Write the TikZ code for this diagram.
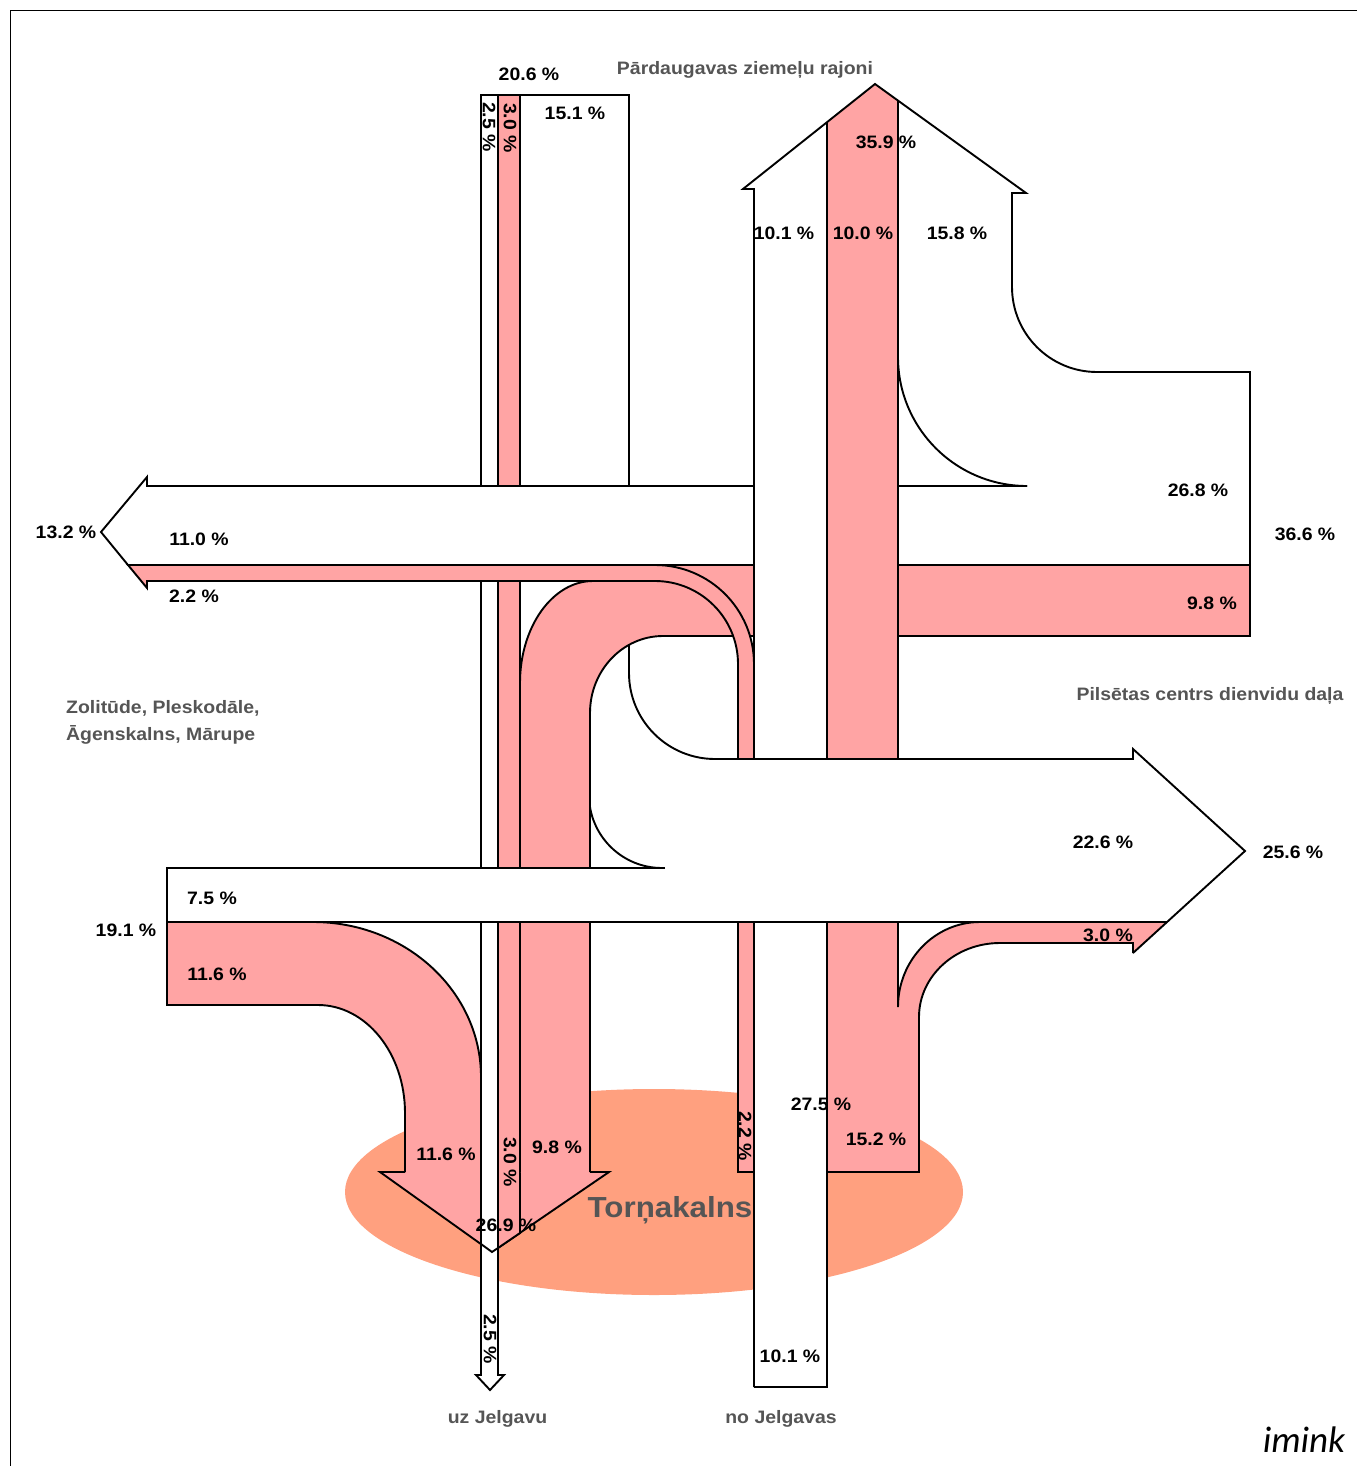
\documentclass[tikz,border=0pt]{standalone}
\usepackage{fontspec}
\setmainfont{Liberation Sans}[FakeStretch=1.08]
\newfontfamily\iminkfont{Carlito}
\definecolor{pinkf}{HTML}{FFA4A4}
\definecolor{salmonf}{HTML}{FFA07F}
\definecolor{graytxt}{HTML}{555555}
\tikzset{
  edge/.style={draw=black, line width=1.9pt, line join=miter, line cap=butt},
  pct/.style={font=\bfseries\fontsize{18}{20}\selectfont, inner sep=0pt, anchor=base},
  pctr/.style={font=\bfseries\fontsize{18}{20}\selectfont, inner sep=0pt, rotate=-90},
  place/.style={font=\bfseries\fontsize{18}{20}\selectfont, text=graytxt, inner sep=0pt, anchor=base},
}
\begin{document}
\begin{tikzpicture}[x=1pt,y=1pt,yscale=-1]
\useasboundingbox (0,0) rectangle (1357,1466);
% frame
\draw[line width=0.8pt] (10,1466) -- (10,10) -- (1357,10);
% ellipse
\fill[salmonf] (654,1192) ellipse [x radius=309pt, y radius=103pt];
% SW pink curve (11.6%) and south arrowhead
\fill[pinkf] (167,922) -- (313,922) arc[start angle=270,end angle=360,x radius=168pt,y radius=155pt] -- (481,1172) -- (405,1172) -- (405,1113) arc[start angle=0,end angle=-90,x radius=87pt,y radius=108pt] -- (167,1005) -- cycle;
\fill[pinkf] (380,1172) -- (609,1172) -- (492,1252) -- cycle;
\draw[edge] (167,922) -- (313,922) arc[start angle=270,end angle=360,x radius=168pt,y radius=155pt] -- (481,1172);
\draw[edge] (405,1172) -- (405,1113) arc[start angle=0,end angle=-90,x radius=87pt,y radius=108pt] -- (167,1005) -- (167,922);
\draw[edge] (405,1172) -- (380,1172) -- (492,1252) -- (609,1172) -- (590,1172);
% north pink 3.0%
\path[fill=pinkf, edge] (498,95) -- (520,95) -- (520,1233) -- (498,1248) -- cycle;
% 2.5% white band to Jelgava
\path[fill=white, edge] (481,95) -- (498,95) -- (498,1375) -- (504,1375) -- (490,1390) -- (476,1375) -- (481,1375) -- cycle;
\draw[edge] (481,1244) -- (492,1252) -- (498,1248);
% north white 15.1%
\fill[white] (520,95) -- (629,95) -- (629,673) arc[start angle=180,end angle=90,radius=86pt] -- (715,868) -- (662,868) arc[start angle=90,end angle=180,radius=73pt] -- (520,795) -- cycle;
\draw[edge] (520,795) -- (520,95) -- (629,95) -- (629,673) arc[start angle=180,end angle=90,radius=86pt] -- (730,759);
\draw[edge] (662,868) arc[start angle=90,end angle=180,radius=73pt];
% east pink 9.8% turning south
\fill[pinkf] (1250,565) -- (1250,636) -- (663,636) arc[start angle=270,end angle=180,x radius=73pt,y radius=77pt] -- (590,1172) -- (520,1172) -- (520,683) arc[start angle=180,end angle=270,x radius=73pt,y radius=102pt] -- (655,581) -- (655,565) -- cycle;
\draw[edge] (655,565) -- (1250,565) -- (1250,636) -- (663,636) arc[start angle=270,end angle=180,x radius=73pt,y radius=77pt] -- (590,1172);
\draw[edge] (520,1172) -- (520,683) arc[start angle=180,end angle=270,x radius=73pt,y radius=102pt];
% pink 2.2% south to west
\path[fill=pinkf, edge] (754,1172) -- (754,664) arc[start angle=0,end angle=-90,radius=99pt] -- (128,565) -- (147,588) -- (147,581) -- (655,581) arc[start angle=-90,end angle=0,radius=83pt] -- (738,1172) -- cycle;
% white east band 26.8% -> north 15.8% and west arrow 11.0%
\fill[white] (1012,193) -- (1012,287) arc[start angle=180,end angle=90,radius=85pt] -- (1250,372) -- (1250,565) -- (128,565) -- (101,532) -- (147,477) -- (147,486) -- (898,486) -- (898,193) -- cycle;
\draw[edge] (1012,193) -- (1012,287) arc[start angle=180,end angle=90,radius=85pt] -- (1250,372) -- (1250,565) -- (128,565) -- (101,532) -- (147,477) -- (147,486) -- (1027,486);
\draw[edge] (898,357) arc[start angle=180,end angle=90,radius=129pt];
% north arrow head and white 10.1% band
\fill[white] (754,205) -- (754,189) -- (743,189) -- (875,84) -- (1026,193) -- (1012,193) -- (1012,205) -- cycle;
\fill[white] (754,189) rectangle (827,1387);
\fill[pinkf] (827,1172) -- (827,122) -- (875,84) -- (898,101) -- (898,1007) arc[start angle=180,end angle=270,x radius=82pt,y radius=85pt] -- (1167,922) -- (1133,953) -- (1133,943) -- (1000,943) arc[start angle=270,end angle=180,x radius=81pt,y radius=74pt] -- (919,1172) -- cycle;
\draw[edge] (754,1387) -- (754,189) -- (743,189) -- (875,84) -- (1026,193) -- (1012,193) -- (1012,260);
\draw[edge] (754,1387) -- (827,1387) -- (827,122);
\draw[edge] (898,101) -- (898,1007) arc[start angle=180,end angle=270,x radius=82pt,y radius=85pt] -- (1167,922);
\draw[edge] (1133,953) -- (1133,943) -- (1000,943) arc[start angle=270,end angle=180,x radius=81pt,y radius=74pt] -- (919,1172) -- (827,1172);
% east arrow (white) with Zolitude band
\fill[white] (167,868) -- (715,868) -- (715,759) -- (1133,759) -- (1133,749) -- (1245,851) -- (1167,922) -- (167,922) -- cycle;
\draw[edge] (665,868) -- (167,868) -- (167,922) -- (1167,922);
\draw[edge] (715,759) -- (1133,759) -- (1133,749) -- (1245,851) -- (1133,953);
% labels
\node[place] (lpard) at (745,74.5) {Pārdaugavas ziemeļu rajoni};
\node[place] (lpils) at (1210,700.5) {Pilsētas centrs dienvidu daļa};
\node[place, anchor=base west] (lzol1) at (66,713.5) {Zolitūde, Pleskodāle,};
\node[place, anchor=base west] (lzol2) at (66,740.5) {Āgenskalns, Mārupe};
\node[place] (luz) at (497.5,1423.5) {uz Jelgavu};
\node[place] (lno) at (781,1423.5) {no Jelgavas};
\node[font=\bfseries\fontsize{29}{32}\selectfont, text=graytxt, inner sep=0pt, anchor=base] (ltor) at (670,1217.5) {Torņakalns};
\node[font=\iminkfont\itshape\fontsize{37}{40}\selectfont, inner sep=0pt] (llogo) at (1304,1440) {imink};
\node[pct] (p206) at (529,80.5) {20.6 \%};
\node[pctr] (p25a) at (489,127) {2.5 \%};
\node[pctr] (p30a) at (510,128) {3.0 \%};
\node[pct] (p151) at (575,119.5) {15.1 \%};
\node[pct] (p359) at (886,148.5) {35.9 \%};
\node[pct] (p101a) at (784,239) {10.1 \%};
\node[pct] (p100) at (863,239) {10.0 \%};
\node[pct] (p158) at (957,239) {15.8 \%};
\node[pct] (p268) at (1198,496) {26.8 \%};
\node[pct] (p366) at (1305,540.5) {36.6 \%};
\node[pct] (p132) at (66,538.5) {13.2 \%};
\node[pct] (p110) at (199,545.5) {11.0 \%};
\node[pct] (p22a) at (194,602.5) {2.2 \%};
\node[pct] (p98a) at (1212,609.5) {9.8 \%};
\node[pct] (p226) at (1103,848) {22.6 \%};
\node[pct] (p256) at (1293,858) {25.6 \%};
\node[pct] (p30b) at (1108,941.5) {3.0 \%};
\node[pct] (p75) at (212,904.5) {7.5 \%};
\node[pct] (p191) at (126,936.5) {19.1 \%};
\node[pct] (p116a) at (217,980) {11.6 \%};
\node[pct] (p275) at (821,1110) {27.5 \%};
\node[pctr] (p22b) at (745,1136) {2.2 \%};
\node[pct] (p152) at (876,1145.5) {15.2 \%};
\node[pct] (p116b) at (446,1160.5) {11.6 \%};
\node[pctr] (p30c) at (510,1162) {3.0 \%};
\node[pct] (p98b) at (557,1153.5) {9.8 \%};
\node[pct] (p269) at (506,1231.5) {26.9 \%};
\node[pctr] (p25b) at (490,1339) {2.5 \%};
\node[pct] (p101b) at (790,1362.5) {10.1 \%};
\end{tikzpicture}
\end{document}
